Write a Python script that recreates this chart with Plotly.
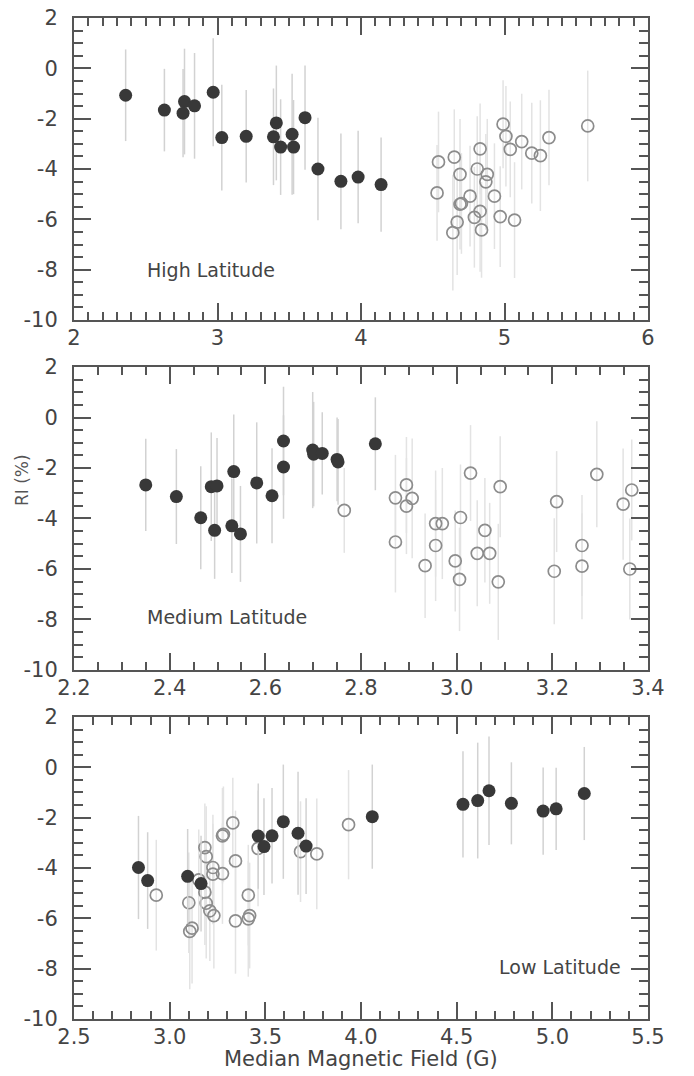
import plotly.graph_objects as go

# ---------------- data ----------------
# High latitude panel
hx_f = [2.36, 2.63, 2.77, 2.76, 2.84, 2.97, 3.03, 3.20, 3.41, 3.39, 3.44, 3.52, 3.53, 3.61, 3.70, 3.86, 3.98, 4.14]
hy_f = [-1.07, -1.66, -1.32, -1.78, -1.49, -0.95, -2.75, -2.70, -2.17, -2.72, -3.13, -2.62, -3.13, -1.96, -4.00, -4.49, -4.32, -4.62]
he_f = [1.82, 1.64, 2.1, 1.75, 2.1, 2.15, 2.1, 1.84, 2.28, 1.92, 1.9, 2.4, 1.87, 2.07, 2.04, 1.9, 1.84, 1.87]

hx_o = [4.54, 4.53, 4.65, 4.69, 4.67, 4.64, 4.70, 4.69, 4.76, 4.81, 4.83, 4.88, 4.87, 4.79, 4.83, 4.84, 4.93, 4.97, 5.07,
        4.99, 5.01, 5.04, 5.12, 5.19, 5.25, 5.31, 5.58]
hy_o = [-3.72, -4.95, -3.53, -4.21, -6.11, -6.53, -5.37, -5.40, -5.08, -4.00, -3.20, -4.21, -4.51, -5.92, -5.68, -6.42,
        -5.08, -5.89, -6.03, -2.22, -2.70, -3.22, -2.91, -3.37, -3.47, -2.75, -2.29]
he_o = [2.0, 1.9, 1.9, 2.2, 2.1, 2.3, 2.0, 1.8, 2.0, 2.1, 1.8, 2.2, 1.9, 2.0, 2.4, 1.9, 2.1, 2.0, 2.3, 1.75, 2.0, 1.9,
        1.9, 2.0, 2.2, 1.9, 2.2]

# Medium latitude panel
mx_f = [2.350, 2.414, 2.465, 2.487, 2.499, 2.494, 2.534, 2.530, 2.548, 2.582, 2.614, 2.638, 2.638, 2.699, 2.701, 2.719,
        2.750, 2.752, 2.830]
my_f = [-2.67, -3.13, -3.97, -2.74, -2.71, -4.47, -2.14, -4.29, -4.61, -2.59, -3.10, -0.93, -1.96, -1.29, -1.45, -1.42,
        -1.66, -1.76, -1.04]
me_f = [1.83, 1.88, 2.04, 2.15, 1.9, 1.92, 2.26, 1.87, 1.9, 2.4, 1.88, 2.15, 2.05, 2.3, 2.07, 1.63, 1.66, 1.7, 1.84]

mx_o = [2.765, 2.872, 2.895, 2.907, 2.895, 2.872, 2.934, 2.956, 2.970, 2.956, 3.008, 2.997, 3.006, 3.029, 3.059, 3.043,
        3.069, 3.091, 3.087, 3.209, 3.204, 3.262, 3.262, 3.293, 3.348, 3.366, 3.362]
my_o = [-3.68, -3.18, -2.67, -3.20, -3.51, -4.93, -5.87, -4.20, -4.20, -5.07, -3.96, -5.68, -6.41, -2.20, -4.47, -5.38,
        -5.38, -2.74, -6.51, -3.33, -6.09, -5.07, -5.89, -2.25, -3.43, -2.87, -6.00]
me_o = [1.68, 1.7, 1.9, 2.37, 1.9, 2.0, 2.07, 2.1, 2.2, 2.2, 2.1, 2.0, 2.05, 1.9, 2.07, 2.1, 2.0, 2.0, 2.3, 2.0, 2.1,
        2.0, 2.1, 2.1, 2.2, 2.0, 2.0]

# Low latitude panel
lx_f = [2.837, 2.885, 3.094, 3.164, 3.463, 3.493, 3.535, 3.594, 3.671, 3.713, 4.059, 4.533, 4.610, 4.669, 4.786, 4.952,
        5.020, 5.167]
ly_f = [-3.98, -4.50, -4.33, -4.62, -2.73, -3.15, -2.72, -2.16, -2.62, -3.13, -1.96, -1.47, -1.32, -0.93, -1.43, -1.74,
        -1.65, -1.04]
le_f = [2.05, 1.92, 1.88, 1.9, 2.09, 1.92, 1.9, 2.27, 2.44, 1.9, 2.07, 2.11, 2.3, 2.16, 1.63, 1.73, 1.63, 1.85]

lx_o = [2.930, 3.100, 3.105, 3.117, 3.152, 3.184, 3.191, 3.184, 3.191, 3.210, 3.231, 3.226, 3.226, 3.276, 3.281, 3.276,
        3.330, 3.344, 3.344, 3.411, 3.411, 3.418, 3.462, 3.684, 3.769, 3.935]
ly_o = [-5.08, -5.38, -6.52, -6.39, -4.47, -3.19, -3.55, -4.96, -5.40, -5.70, -5.89, -3.98, -4.24, -2.72, -2.66, -4.22,
        -2.21, -3.72, -6.10, -5.08, -6.02, -5.89, -3.22, -3.35, -3.44, -2.28]
le_o = [2.2, 2.0, 2.3, 2.2, 2.0, 1.75, 2.0, 2.1, 2.2, 2.0, 2.1, 2.1, 2.0, 1.9, 1.9, 2.0, 1.8, 2.0, 2.1, 2.0, 2.3, 2.1,
        2.3, 2.0, 2.2, 2.17]

# tick labels
y_tickvals = [2, 0, -2, -4, -6, -8, -10]
y_ticktext = ["2", "0", "-2", "-4", "-6", "-8", "-10"]
x1_tickvals = [2, 3, 4, 5, 6]
x1_ticktext = ["2", "3", "4", "5", "6"]
x2_tickvals = [2.2, 2.4, 2.6, 2.8, 3.0, 3.2, 3.4]
x2_ticktext = ["2.2", "2.4", "2.6", "2.8", "3.0", "3.2", "3.4"]
x3_tickvals = [2.5, 3.0, 3.5, 4.0, 4.5, 5.0, 5.5]
x3_ticktext = ["2.5", "3.0", "3.5", "4.0", "4.5", "5.0", "5.5"]

panel_labels = ["High Latitude", "Medium Latitude", "Low Latitude"]
x_title = "Median Magnetic Field (G)"
y_title = "RI (%)"

# ---------------- styling ----------------
FONT = "DejaVu Sans"
AX = "#555555"
TXT = "#444444"
FILL = "#383838"
OPEN = "#8c8c8c"
ERR_F = "#d2d2d2"
ERR_O = "#e3e3e3"

W, H = 694, 1076

fig = go.Figure()


def add_panel(xf, yf, ef, xo, yo, eo, xa, ya):
    fig.add_trace(go.Scatter(
        x=xo, y=yo, mode="markers", xaxis=xa, yaxis=ya, showlegend=False,
        error_y=dict(type="data", array=eo, visible=True, color=ERR_O, thickness=1.5, width=0),
        marker=dict(symbol="circle-open", size=12, color=OPEN, line=dict(width=1.7, color=OPEN)),
    ))
    fig.add_trace(go.Scatter(
        x=xf, y=yf, mode="markers", xaxis=xa, yaxis=ya, showlegend=False,
        error_y=dict(type="data", array=ef, visible=True, color=ERR_F, thickness=1.5, width=0),
        marker=dict(symbol="circle", size=13, color=FILL, line=dict(width=0)),
    ))


add_panel(hx_f, hy_f, he_f, hx_o, hy_o, he_o, "x", "y")
add_panel(mx_f, my_f, me_f, mx_o, my_o, me_o, "x2", "y2")
add_panel(lx_f, ly_f, le_f, lx_o, ly_o, le_o, "x3", "y3")


def xaxis(anchor, rng, tv, tt, minor_dtick):
    return dict(
        anchor=anchor, domain=[0, 1], range=rng, tickvals=tv, ticktext=tt, automargin=False,
        showline=True, linecolor=AX, linewidth=2, mirror="ticks",
        ticks="inside", ticklen=17, tickwidth=2, tickcolor=AX,
        minor=dict(dtick=minor_dtick, tick0=rng[0], ticks="inside", ticklen=8, tickwidth=2, tickcolor=AX),
        showgrid=False, zeroline=False, ticklabeloverflow="allow", ticklabelstandoff=-2,
        tickfont=dict(family=FONT, size=21, color=TXT),
    )


def yaxis(anchor, dom):
    return dict(
        anchor=anchor, domain=dom, range=[-10, 2], tickvals=y_tickvals, ticktext=y_ticktext, automargin=False,
        showline=True, linecolor=AX, linewidth=2, mirror="ticks",
        ticks="inside", ticklen=17, tickwidth=2, tickcolor=AX,
        minor=dict(dtick=0.5, tick0=0, ticks="inside", ticklen=9, tickwidth=2, tickcolor=AX),
        showgrid=False, zeroline=False, ticklabelstandoff=10, ticklabeloverflow="allow",
        tickfont=dict(family=FONT, size=21, color=TXT),
    )


fig.update_layout(
    width=W, height=H,
    margin=dict(l=74, r=46, t=18, b=57),
    paper_bgcolor="white", plot_bgcolor="white",
    font=dict(family=FONT, color=TXT),
    xaxis=xaxis("y", [2, 6], x1_tickvals, x1_ticktext, 0.1),
    yaxis=yaxis("x", [0.6983, 1.0]),
    xaxis2=xaxis("y2", [2.2, 3.4], x2_tickvals, x2_ticktext, 0.05),
    yaxis2=yaxis("x2", [0.3487, 0.6513]),
    xaxis3=xaxis("y3", [2.5, 5.5], x3_tickvals, x3_ticktext, 0.1),
    yaxis3=yaxis("x3", [0.0, 0.3017]),
    annotations=[
        dict(text=panel_labels[0], x=2.495, y=-8.0, xref="x", yref="y", xanchor="left", yanchor="middle",
             showarrow=False, font=dict(family=FONT, size=19, color=TXT)),
        dict(text=panel_labels[1], x=2.349, y=-7.92, xref="x2", yref="y2", xanchor="left", yanchor="middle",
             showarrow=False, font=dict(family=FONT, size=19, color=TXT)),
        dict(text=panel_labels[2], x=5.37, y=-7.92, xref="x3", yref="y3", xanchor="right", yanchor="middle",
             showarrow=False, font=dict(family=FONT, size=19, color=TXT)),
        dict(text=x_title, x=0.5, y=(1019 - 1059) / 1001, xref="paper", yref="paper", xanchor="center",
             yanchor="middle", showarrow=False, font=dict(family=FONT, size=21, color=TXT)),
        dict(text=y_title, x=-0.0906, y=(1019 - 480) / 1001, xref="paper", yref="paper", xanchor="center",
             yanchor="middle", textangle=-90, showarrow=False, font=dict(family=FONT, size=17, color="#555555")),
    ],
)

# remove the default 8px page margin so the figure fills the 694x1076 window exactly
fig.write_html("out.html",
               config={"displayModeBar": False},
               post_script="document.body.style.margin='0px';document.body.style.overflow='hidden';")
